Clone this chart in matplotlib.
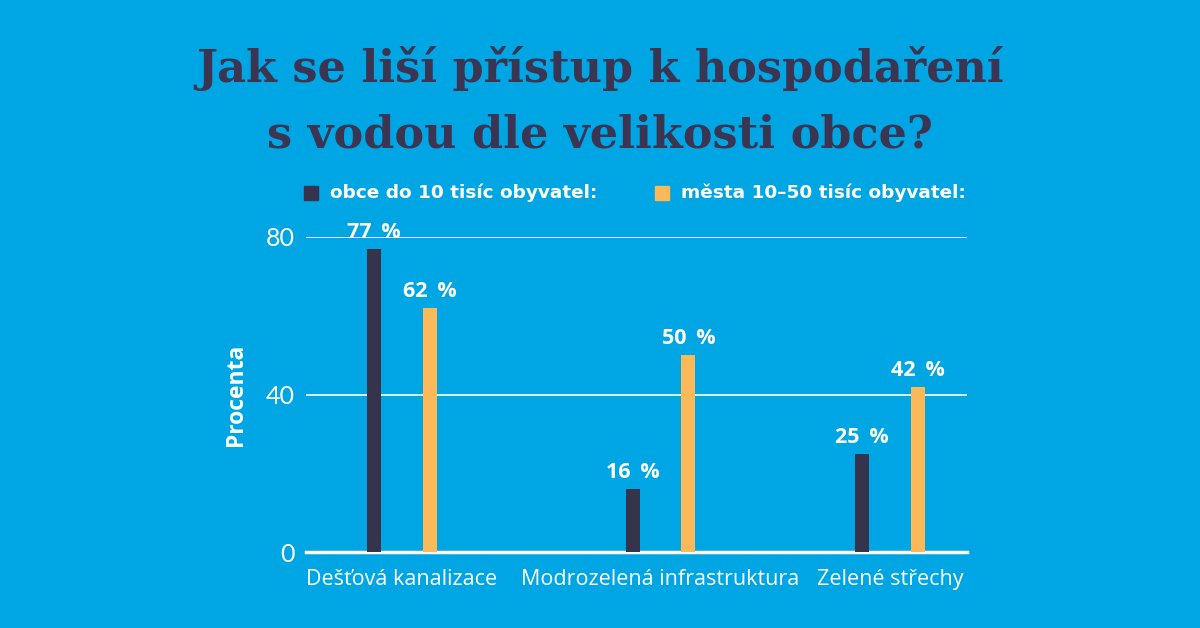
import numpy as np
import matplotlib.pyplot as plt

# data
categories = ["Dešťová kanalizace", "Modrozelená infrastruktura", "Zelené střechy"]
small_towns = [77, 16, 25]
mid_towns = [62, 50, 42]
series_names = ["obce do 10 tisíc obyvatel:", "města 10–50 tisíc obyvatel:"]
y_ticks = [0, 40, 80]

# style
bg = "#00A5E3"
navy = "#36344C"
yellow = "#FBB95A"
title_col = "#3B3551"

fig = plt.figure(figsize=(12, 6.28), dpi=100)
fig.patch.set_facecolor(bg)

# axes box in pixels: left 306, right 967, top 237 (80), bottom 552 (0)
W, H = 1200, 628
ax = fig.add_axes([306 / W, 1 - 552 / H, (967 - 306) / W, (552 - 237) / H])
ax.set_facecolor(bg)

group_pos = np.array([0, 1.06, 2.0])
off = 0.114
bw = 0.058

ax.bar(group_pos - off, small_towns, width=bw, color=navy, zorder=3)
ax.bar(group_pos + off, mid_towns, width=bw, color=yellow, zorder=3)

for x, v in zip(group_pos - off, small_towns):
    ax.text(x, v + 1.5, f"{v}\u2009 %", ha="center", va="bottom", color="white",
            fontsize=15.5, fontweight="bold", family="Open Sans")
for x, v in zip(group_pos + off, mid_towns):
    ax.text(x, v + 1.5, f"{v}\u2009 %", ha="center", va="bottom", color="white",
            fontsize=15.5, fontweight="bold", family="Open Sans")

ax.set_xlim(-0.393, 2.316)
ax.set_ylim(0, 80)
ax.set_yticks(y_ticks)
ax.set_yticklabels([str(t) for t in y_ticks], fontsize=18, family="Lato")
ax.yaxis.grid(True, color="white", linewidth=1.2, zorder=0)
ax.tick_params(axis="y", length=0, pad=8, labelcolor="white")
ax.tick_params(axis="x", length=0, pad=12, labelcolor="white")
ax.set_xticks(group_pos)
ax.set_xticklabels(categories, fontsize=15.5, family="Open Sans")
for s in ["top", "right", "left"]:
    ax.spines[s].set_visible(False)
ax.spines["bottom"].set_color("white")
ax.spines["bottom"].set_linewidth(2.5)

ax.set_ylabel("Procenta", color="white", fontsize=16.5, fontweight="bold",
              family="Open Sans", labelpad=13)

# title
fig.text(0.5, 1 - 82 / H, "Jak se liší přístup k hospodaření", ha="center",
         va="baseline", fontsize=32, fontweight="bold", family="DejaVu Serif",
         color=title_col)
fig.text(0.5, 1 - 147 / H, "s vodou dle velikosti obce?", ha="center",
         va="baseline", fontsize=32, fontweight="bold", family="DejaVu Serif",
         color=title_col)

# legend
fig.patches.append(plt.Rectangle((304 / W, 1 - 200 / H), 14 / W, 14 / H,
                                 transform=fig.transFigure, color=navy))
fig.text(330 / W, 1 - 193 / H, series_names[0], ha="left", va="center",
         fontsize=13.3, fontweight="bold", family="DejaVu Sans", color="white")
fig.patches.append(plt.Rectangle((655 / W, 1 - 200 / H), 14 / W, 14 / H,
                                 transform=fig.transFigure, color=yellow))
fig.text(681 / W, 1 - 193 / H, series_names[1], ha="left", va="center",
         fontsize=13.3, fontweight="bold", family="DejaVu Sans", color="white")

fig.savefig("out.png", dpi=100, facecolor=bg)
